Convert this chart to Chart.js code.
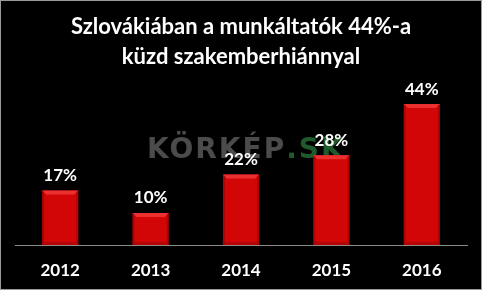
<!DOCTYPE html>
<html>
<head>
<meta charset="utf-8">
<script src="https://cdn.jsdelivr.net/npm/chart.js@4.4.0/dist/chart.umd.min.js"></script>
<style>
  html, body { margin: 0; padding: 0; background: #000; }
  canvas { display: block; }
</style>
</head>
<body>
<canvas id="chart" width="482" height="290"></canvas>
<script>
// data
const years = ['2012', '2013', '2014', '2015', '2016'];
const shares = [17, 10, 22, 28, 44];
const titleLines = ['Szlovákiában a munkáltatók 44%-a', 'küzd szakemberhiánnyal'];

const FONT = 'Lato, "Open Sans", sans-serif';

// watermark + frame behind the bars
const backdrop = {
    id: 'backdrop',
    beforeDatasetsDraw(chart) {
        const ctx = chart.ctx;
        ctx.save();
        ctx.font = 'bold 28px "DejaVu Sans", sans-serif';
        ctx.letterSpacing = '2px';
        ctx.textBaseline = 'alphabetic';
        ctx.textAlign = 'left';
        ctx.fillStyle = '#4b4b4b';
        ctx.fillText('KÖRKÉP', 147, 158);
        const w = ctx.measureText('KÖRKÉP').width;
        ctx.fillStyle = '#1e5a2c';
        ctx.fillText('.SK', 147 + w, 158);
        ctx.restore();
    },
    afterDraw(chart) {
        const ctx = chart.ctx;
        ctx.save();
        ctx.strokeStyle = '#9a9a9a';
        ctx.lineWidth = 1;
        ctx.strokeRect(0.5, 0.5, chart.width - 1, chart.height - 1);
        ctx.restore();
    }
};

// bevel on bars and value labels above them
const barLabels = {
    id: 'barLabels',
    afterDatasetsDraw(chart) {
        const ctx = chart.ctx;
        const meta = chart.getDatasetMeta(0);
        ctx.save();
        meta.data.forEach((bar, i) => {
            const half = bar.width / 2;
            const l = bar.x - half, r = bar.x + half, t = bar.y, b = bar.base;
            // top bevel
            ctx.fillStyle = '#ec3030';
            ctx.beginPath();
            ctx.moveTo(l, t); ctx.lineTo(r, t); ctx.lineTo(r - 4, t + 4); ctx.lineTo(l + 4, t + 4);
            ctx.closePath(); ctx.fill();
            // side and bottom shade
            ctx.fillStyle = 'rgba(120,0,0,0.4)';
            ctx.fillRect(l, t + 1, 2, b - t - 1);
            ctx.fillRect(r - 2, t + 1, 2, b - t - 1);
            ctx.fillStyle = 'rgba(120,0,0,0.3)';
            ctx.fillRect(l + 2, b - 3, r - l - 4, 3);

            ctx.fillStyle = '#ffffff';
            ctx.font = 'bold 17px ' + FONT;
            ctx.textAlign = 'center';
            ctx.textBaseline = 'middle';
            ctx.fillText(shares[i] + '%', bar.x, t - 15);
        });
        ctx.restore();
    }
};

new Chart(document.getElementById('chart').getContext('2d'), {
    type: 'bar',
    data: {
        labels: years,
        datasets: [{
            data: shares,
            backgroundColor: '#d20606',
            borderWidth: 0,
            barPercentage: 0.4,
            categoryPercentage: 1.0
        }]
    },
    options: {
        responsive: false,
        animation: false,
        layout: { padding: { left: 15, right: 15, top: 4, bottom: 0 } },
        plugins: {
            legend: { display: false },
            tooltip: { enabled: false },
            title: {
                display: true,
                text: titleLines,
                color: '#ffffff',
                font: { family: FONT, size: 22, weight: 'bold', lineHeight: 1.36 },
                padding: { top: 8, bottom: 13 }
            }
        },
        scales: {
            x: {
                grid: { display: false, drawTicks: false },
                border: { display: true, color: '#8c8c8c', width: 1 },
                ticks: {
                    color: '#ffffff',
                    font: { family: FONT, size: 17, weight: 'bold' },
                    padding: 15
                },
                afterFit(scale) { scale.height = 45; }
            },
            y: {
                display: false,
                min: 0,
                max: 50
            }
        }
    },
    plugins: [backdrop, barLabels]
});
</script>
</body>
</html>
